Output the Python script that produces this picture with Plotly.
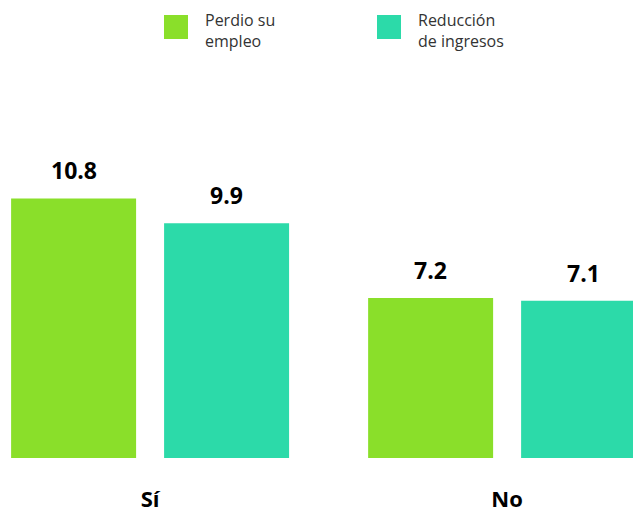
import plotly.graph_objects as go

categories = ["Sí", "No"]
series_names = ["Perdio su<br>empleo", "Reducción<br>de ingresos"]
perdio_empleo = [10.8, 7.2]
reduccion_ingresos = [9.9, 7.1]
colors = ["#8ADF2A", "#2CDAA9"]

series_values = [perdio_empleo, reduccion_ingresos]

W, H = 633, 506  # page body adds an 8px margin

fig = go.Figure()
for name, vals, col in zip(series_names, series_values, colors):
    fig.add_trace(go.Bar(x=categories, y=vals, name=name.replace("<br>", " "),
                         marker=dict(color=col, line=dict(width=0)), showlegend=False))

# value labels above bars
slot_px = 153
for i, vals in enumerate(series_values):
    shift = (-0.5 + i) * slot_px
    for c, v in zip(categories, vals):
        fig.add_annotation(x=c, y=v, text=f"<b>{v:.1f}</b>", showarrow=False,
                           xshift=shift, yshift=10, yanchor="bottom",
                           font=dict(family="Open Sans", size=23, color="#000000"))

# manual legend
leg_x = [164, 377]
for i, (name, col) in enumerate(zip(series_names, colors)):
    fig.add_shape(type="rect", xref="paper", yref="paper",
                  x0=(leg_x[i] - 8) / W, x1=(leg_x[i] + 24 - 8) / W,
                  y0=(458 - 39) / 398, y1=(458 - 15) / 398,
                  fillcolor=col, line=dict(width=0))
    fig.add_annotation(xref="paper", yref="paper", x=(leg_x[i] + 40 - 8) / W,
                       y=(458 - 30) / 398, text=name, showarrow=False,
                       xanchor="left", yanchor="middle", align="left", borderpad=0,
                       font=dict(family="Open Sans", size=16, color="#333333"))

fig.update_layout(
    width=W, height=H,
    margin=dict(l=0, r=0, t=52, b=56, autoexpand=False),
    paper_bgcolor="white", plot_bgcolor="white",
    barmode="group", bargap=0.143, bargroupgap=0.183,
    xaxis=dict(range=[-0.398, 1.375], showgrid=False, zeroline=False, showline=False,
               ticks="", ticklabelstandoff=26, automargin=False,
               tickfont=dict(family="Open Sans", size=22, color="#000000", weight="bold")),
    yaxis=dict(range=[1.41, 15.81], visible=False, automargin=False),
)

fig.write_html("out.html")
